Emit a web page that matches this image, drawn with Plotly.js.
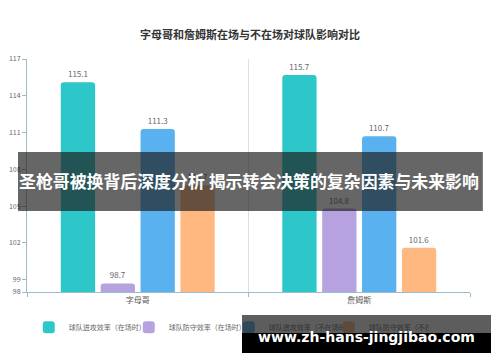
<!DOCTYPE html>
<html><head><meta charset="utf-8">
<script src="https://cdn.plot.ly/plotly-3.0.1.min.js"></script>
<style>
html,body{margin:0;padding:0;background:#fff}
#wrap{position:relative;width:500px;height:362px}
#c{width:500px;height:362px}
#wm{position:absolute;left:242px;top:315px;width:249px;height:38px;pointer-events:none}
#wm .g{position:absolute;left:0;top:0;width:249px;height:18px;background:rgba(30,30,30,0.72)}
#wm .b{position:absolute;left:0;top:18px;width:249px;height:20px;background:#000}
#wm .t{position:absolute;left:0;top:12px;width:249px;text-align:center;color:#fff;font:bold 14px "DejaVu Sans",sans-serif;line-height:20px;white-space:nowrap}
</style>
</head><body><div id="wrap"><div id="c"></div><div id="wm"><div class="g"></div><div class="b"></div><div class="t" id="wmt"></div></div></div>
<script>
const categories = ['字母哥', '詹姆斯'];
const seriesNames = ['球队进攻效率（在场时）', '球队防守效率（在场时）', '球队进攻效率（不在场时）', '球队防守效率（不在场时）'];
const offOn = [115.1, 115.7];
const defOn = [98.7, 104.8];
const offOff = [111.3, 110.7];
const defOff = [106.7, 101.6];
const yTicks = [98, 99, 102, 105, 108, 111, 114, 117];
const colors = ['#2ec7c9', '#b6a2de', '#5ab1ef', '#ffb980'];
const titleText = '字母哥和詹姆斯在场与不在场对球队影响对比';
const bannerText = '圣枪哥被换背后深度分析 揭示转会决策的复杂因素与未来影响';
const watermarkText = 'www.zh-hans-jingjibao.com';

document.getElementById('wmt').textContent = watermarkText;
const FONT = 'Noto Sans CJK SC, Noto Sans, sans-serif';
const series = [offOn, defOn, offOff, defOff];
const traces = series.map((vals, i) => ({
  type: 'bar', name: seriesNames[i], x: categories, y: vals,
  marker: {color: colors[i], cornerradius: 3},
  text: vals.map(v => v.toFixed(1)), textposition: 'outside',
  textfont: {size: 8, color: '#666'}, cliponaxis: false,
  hoverinfo: 'none'
}));

const layout = {
  width: 500, height: 362,
  margin: {l: 27, r: 30, t: 59, b: 70},
  paper_bgcolor: '#fff', plot_bgcolor: '#fff',
  font: {family: FONT, size: 8, color: '#666'},
  title: {text: '<b>' + titleText + '</b>', font: {size: 11, color: '#333'}, x: 0.5, xanchor: 'center', y: 0.904, yanchor: 'middle'},
  barmode: 'group', bargap: 0.28, bargroupgap: 0.14,
  showlegend: true,
  legend: {orientation: 'h', x: 0.004, xanchor: 'left', y: -0.151, yanchor: 'middle',
    font: {size: 7, color: '#666'}, itemwidth: 30, traceorder: 'normal',
    entrywidth: 55, entrywidthmode: 'pixels', bgcolor: 'rgba(0,0,0,0)'},
  xaxis: {type: 'category', showline: true, linecolor: '#9bbcc8', linewidth: 1,
    ticks: 'outside', tickson: 'boundaries', ticklen: 4, tickcolor: '#9bbcc8',
    showgrid: true, gridcolor: '#d5e2e7', tickfont: {size: 8, color: '#555'}, fixedrange: true},
  yaxis: {range: [98, 117], tickvals: yTicks, ticktext: yTicks.map(String), showline: true, linecolor: '#9bbcc8',
    ticks: 'outside', ticklen: 4, tickcolor: '#9bbcc8', showgrid: false, zeroline: false,
    tickfont: {size: 7, color: '#666'}, fixedrange: true},
  shapes: [
    {type: 'rect', xref: 'paper', yref: 'paper', x0: -0.0203, x1: 1.029, y0: 0.3476, y1: 0.601,
      fillcolor: 'rgba(30,30,30,0.68)', line: {width: 0}, layer: 'above'}
  ],
  annotations: [
    {text: '<b>' + bannerText + '</b>', xref: 'paper', yref: 'paper', x: 0.5, y: 0.478, xanchor: 'center', yanchor: 'middle',
      showarrow: false, font: {size: 16.9, color: '#fff', family: FONT}}
  ]
};
Plotly.newPlot('c', traces, layout, {displayModeBar: false, staticPlot: true});
</script></body></html>
